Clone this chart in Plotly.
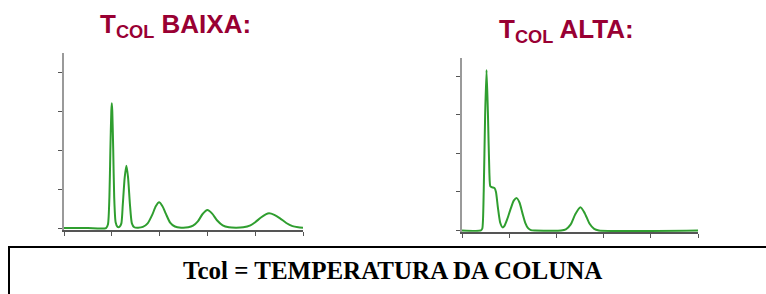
import plotly.graph_objects as go

# Data (x in tick units, y in tick units)
low_x = [0.0, 0.5, 0.88, 0.92, 0.95, 0.97, 0.99, 1.0, 1.01, 1.03, 1.05, 1.08, 1.12, 1.16,
         1.2, 1.23, 1.27, 1.305, 1.34, 1.38, 1.42, 1.47, 1.55, 1.65, 1.75, 1.85, 1.92, 1.99,
         2.06, 2.13, 2.22, 2.32, 2.45, 2.6, 2.7, 2.8, 2.9, 3.0, 3.1, 3.2, 3.32, 3.45, 3.6,
         3.75, 3.9, 4.0, 4.12, 4.22, 4.29, 4.4, 4.52, 4.65, 4.78, 4.9, 5.0]
low_y = [0.0, 0.0, 0.0, 0.1, 0.8, 2.0, 3.0, 3.2, 3.0, 2.0, 0.8, 0.15, 0.03, 0.03,
         0.12, 0.6, 1.3, 1.6, 1.3, 0.6, 0.12, 0.02, 0.01, 0.03, 0.12, 0.35, 0.56, 0.66,
         0.56, 0.37, 0.14, 0.04, 0.01, 0.02, 0.06, 0.17, 0.36, 0.46, 0.37, 0.2, 0.07, 0.02, 0.01,
         0.02, 0.07, 0.15, 0.27, 0.35, 0.38, 0.34, 0.25, 0.13, 0.05, 0.02, 0.01]

high_x = [0.0, 0.4, 0.43, 0.46, 0.49, 0.52, 0.55, 0.58, 0.60, 0.64, 0.69, 0.72, 0.76, 0.81,
          0.86, 0.9, 0.96, 1.03, 1.1, 1.16, 1.22, 1.28, 1.34, 1.4, 1.46, 1.55, 2.1, 2.2, 2.3,
          2.4, 2.51, 2.6, 2.7, 2.8, 2.9, 5.0]
high_y = [0.0, 0.0, 0.05, 1.0, 3.0, 4.17, 3.0, 1.5, 1.15, 1.12, 1.1, 1.0, 0.6, 0.2,
          0.08, 0.12, 0.3, 0.56, 0.78, 0.84, 0.72, 0.45, 0.2, 0.06, 0.01, 0.0, 0.0, 0.03, 0.15,
          0.42, 0.6, 0.45, 0.18, 0.04, 0.0, 0.0]

x_ticks = [0, 1, 2, 3, 4, 5]
y_ticks = [0, 1, 2, 3, 4]

title_low = "<b>T<sub>COL</sub> BAIXA:</b>"
title_high = "<b>T<sub>COL</sub> ALTA:</b>"
footer = "<b>Tcol = TEMPERATURA DA COLUNA</b>"

GREEN = "#2f9e2f"
MAROON = "#990033"
W, H = 766, 294

fig = go.Figure()
fig.add_trace(go.Scatter(x=low_x, y=low_y, mode="lines", xaxis="x", yaxis="y",
                         line=dict(color=GREEN, width=2, shape="spline", smoothing=0.6),
                         hoverinfo="skip", showlegend=False))
fig.add_trace(go.Scatter(x=high_x, y=high_y, mode="lines", xaxis="x2", yaxis="y2",
                         line=dict(color=GREEN, width=2, shape="spline", smoothing=0.6),
                         hoverinfo="skip", showlegend=False))

def py(p):
    return 1 - p / H

xa = dict(range=[0, 5], tickvals=x_ticks, showticklabels=False, ticks="outside",
          ticklen=4, tickcolor="#555", tickwidth=1, showline=True, linecolor="#555",
          linewidth=1.5, showgrid=False, zeroline=False, fixedrange=True)
ya = dict(tickvals=y_ticks, showticklabels=False, ticks="outside", ticklen=4,
          tickcolor="#555", tickwidth=1, showline=True, linecolor="#9a9a9a", linewidth=2,
          showgrid=False, zeroline=False, fixedrange=True)

fig.update_layout(
    width=W, height=H, margin=dict(l=0, r=0, t=0, b=0),
    paper_bgcolor="white", plot_bgcolor="white",
    xaxis=dict(xa, domain=[64 / W, 303 / W], anchor="y"),
    yaxis=dict(ya, domain=[py(230), py(53)], range=[-0.05, 4.49], anchor="x"),
    xaxis2=dict(xa, domain=[462 / W, 698 / W], anchor="y2"),
    yaxis2=dict(ya, domain=[py(232), py(58)], range=[-0.04, 4.48], anchor="x2"),
    shapes=[dict(type="rect", xref="paper", yref="paper", x0=9 / W, x1=1.01,
                 y0=-0.02, y1=py(247), line=dict(color="black", width=2))],
    annotations=[
        dict(text=title_low, xref="paper", yref="paper", x=175 / W, y=py(26),
             showarrow=False, xanchor="center", yanchor="middle",
             font=dict(family="Liberation Sans, Arial", size=26, color=MAROON)),
        dict(text=title_high, xref="paper", yref="paper", x=566 / W, y=py(30),
             showarrow=False, xanchor="center", yanchor="middle",
             font=dict(family="Liberation Sans, Arial", size=26, color=MAROON)),
        dict(text=footer, xref="paper", yref="paper", x=392 / W, y=py(270),
             showarrow=False, xanchor="center", yanchor="middle",
             font=dict(family="Liberation Serif, Times New Roman", size=25, color="black")),
    ],
)

fig.write_html("out.html", config={"displayModeBar": False},
               post_script="document.body.style.margin='0';document.body.style.overflow='hidden';")
